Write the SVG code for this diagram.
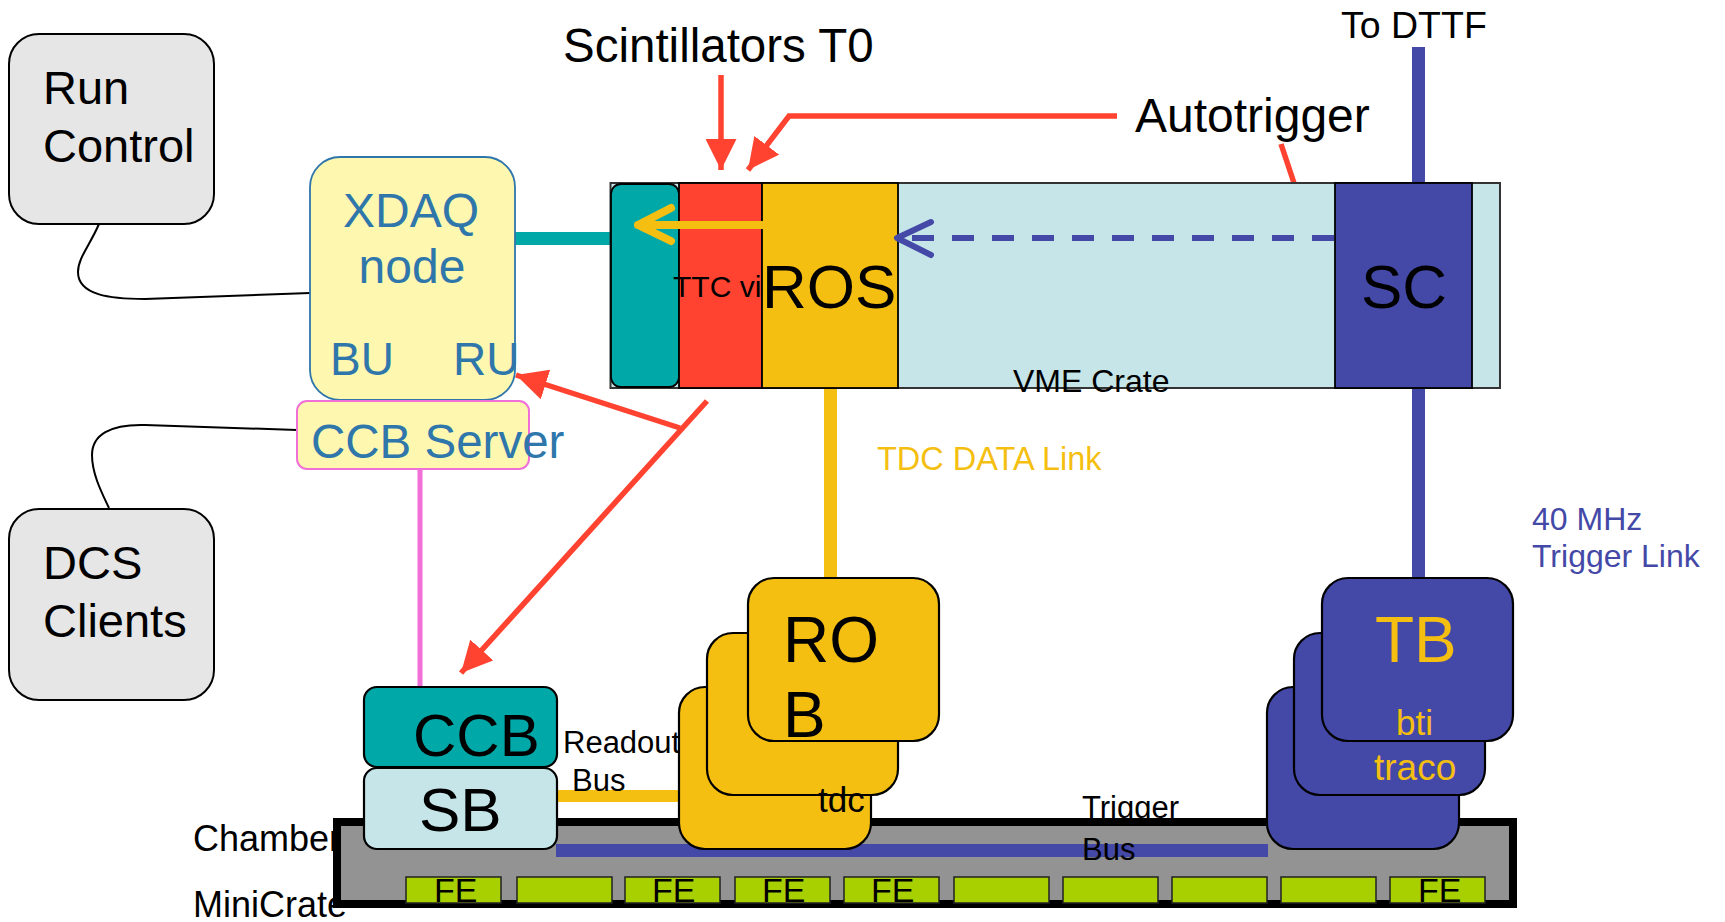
<svg xmlns="http://www.w3.org/2000/svg" width="1725" height="922" viewBox="0 0 1725 922">
<style>
text{font-family:"Liberation Sans",Arial,sans-serif;}
.blk{fill:#000;}
.blu{fill:#2f76ab;}
.gbox{fill:#e6e6e6;stroke:#000;stroke-width:2;}
.red{stroke:#ff4330;stroke-width:5.5;fill:none;}
.thin{stroke:#000;stroke-width:2;fill:none;}
.mod{stroke:#000;stroke-width:1.8;}
.card{stroke:#000;stroke-width:2.2;}
.fe{fill:#a8d000;stroke:#222;stroke-width:1.5;}
</style>
<defs>
<marker id="ah" markerUnits="userSpaceOnUse" viewBox="0 0 31 31" markerWidth="31" markerHeight="31" refX="31" refY="15.5" orient="auto"><path d="M0,0 L31,15.5 L0,31 z" fill="#ff4330"/></marker>
</defs>

<g id="connectors">
<path class="thin" d="M99,224 C90,245 78,258 78,272 C78,295 110,299 145,299 L310,293"/>
<path class="thin" d="M297,430 L145,425 C110,424 92,435 92,455 C92,475 103,495 109,508"/>
<line x1="515" y1="238.5" x2="611" y2="238.5" stroke="#00a8a8" stroke-width="13"/>
<line x1="1418.5" y1="47" x2="1418.5" y2="183" stroke="#4449a8" stroke-width="13"/>
<line x1="1418.5" y1="388" x2="1418.5" y2="578" stroke="#4449a8" stroke-width="13"/>
<line x1="830.5" y1="388" x2="830.5" y2="578" stroke="#f5bf12" stroke-width="13"/>
<line x1="420" y1="469" x2="420" y2="687" stroke="#f070d8" stroke-width="5"/>
<path class="red" d="M721,75 L721,170" marker-end="url(#ah)"/>
<path class="red" d="M1117,116 L789,116 L748,170" marker-end="url(#ah)"/>
<path class="red" d="M1281,144 L1294,183" stroke-width="4.5"/>
<path class="red" d="M680,428 L516,375" marker-end="url(#ah)"/>
<path class="red" d="M707,401 L461,673" marker-end="url(#ah)"/>
</g>

<g id="run-control">
<rect class="gbox" x="9" y="34" width="205" height="190" rx="30"/>
<text class="blk" x="43" y="104" font-size="47">Run</text>
<text class="blk" x="43" y="162" font-size="47">Control</text>
</g>

<g id="dcs-clients">
<rect class="gbox" x="9" y="509" width="205" height="191" rx="30"/>
<text class="blk" x="43" y="579" font-size="47">DCS</text>
<text class="blk" x="43" y="637" font-size="47">Clients</text>
</g>

<g id="xdaq-node">
<rect x="310" y="157" width="205" height="243" rx="30" fill="#fdf7b0" stroke="#2f76ab" stroke-width="1.8"/>
<text class="blu" x="411" y="227" font-size="48" text-anchor="middle">XDAQ</text>
<text class="blu" x="412" y="283" font-size="48" text-anchor="middle">node</text>
<text class="blu" x="330" y="375" font-size="46">BU</text>
<text class="blu" x="453" y="375" font-size="46">RU</text>
</g>

<g id="ccb-server">
<rect x="297" y="401" width="232" height="68" rx="10" fill="#fdf7b0" stroke="#f070d8" stroke-width="2"/>
<text class="blu" x="311" y="458" font-size="47.5">CCB Server</text>
</g>

<g id="labels-top">
<text class="blk" x="563" y="62" font-size="47.5">Scintillators T0</text>
<text class="blk" x="1135" y="132" font-size="48">Autotrigger</text>
<text class="blk" x="1341" y="38" font-size="37.5">To DTTF</text>
</g>

<g id="vme-crate">
<rect x="610.5" y="183" width="889.5" height="205" fill="#c5e5e8" stroke="#333" stroke-width="2"/>
<rect class="mod" x="611" y="184" width="68" height="203" rx="10" fill="#00a8a8"/>
<rect class="mod" x="679" y="183" width="83" height="205" fill="#ff4330"/>
<rect class="mod" x="762" y="183" width="136" height="205" fill="#f5bf12"/>
<rect class="mod" x="1335" y="183" width="137" height="205" fill="#4449a8"/>
<text class="blk" x="673" y="297" font-size="30">TTC vi</text>
<text class="blk" x="762" y="308" font-size="62">ROS</text>
<text class="blk" x="1361" y="308" font-size="62">SC</text>
<text class="blk" x="1013" y="392" font-size="32">VME Crate</text>
<path d="M762,225 L638,225 M671,208 L638,225 L671,241" fill="none" stroke="#f5bf12" stroke-width="8" stroke-linecap="round" stroke-linejoin="round"/>
<line x1="1334" y1="238" x2="897" y2="238" stroke="#4449a8" stroke-width="6" stroke-dasharray="22 18"/>
<path d="M931,222 L897,238 L931,255" fill="none" stroke="#4449a8" stroke-width="6" stroke-linecap="round" stroke-linejoin="round"/>
</g>

<g id="link-labels">
<text x="877" y="470" font-size="32.5" fill="#f5bf12">TDC DATA Link</text>
<text x="1532" y="530" font-size="32" fill="#4449a8">40 MHz</text>
<text x="1532" y="567" font-size="32" fill="#4449a8">Trigger Link</text>
</g>

<g id="chamber-labels">
<text class="blk" x="193" y="851" font-size="36">Chamber</text>
<text class="blk" x="193" y="917" font-size="36">MiniCrate</text>
</g>

<g id="chamber">
<rect x="337" y="822" width="1176" height="82" fill="#939393" stroke="#000" stroke-width="8"/>
<rect class="fe" x="406" y="877" width="95" height="26"/>
<rect class="fe" x="517" y="877" width="95" height="26"/>
<rect class="fe" x="625" y="877" width="95" height="26"/>
<rect class="fe" x="735" y="877" width="95" height="26"/>
<rect class="fe" x="844" y="877" width="95" height="26"/>
<rect class="fe" x="954" y="877" width="95" height="26"/>
<rect class="fe" x="1063" y="877" width="95" height="26"/>
<rect class="fe" x="1172" y="877" width="95" height="26"/>
<rect class="fe" x="1281" y="877" width="95" height="26"/>
<rect class="fe" x="1390" y="877" width="95" height="26"/>
<text class="blk" x="434" y="902" font-size="34">FE</text>
<text class="blk" x="652" y="902" font-size="34">FE</text>
<text class="blk" x="762" y="902" font-size="34">FE</text>
<text class="blk" x="871" y="902" font-size="34">FE</text>
<text class="blk" x="1418" y="902" font-size="34">FE</text>
</g>

<g id="buses">
<line x1="556" y1="850.5" x2="1268" y2="850.5" stroke="#4449a8" stroke-width="13"/>
<line x1="556" y1="796" x2="680" y2="796" stroke="#f5bf12" stroke-width="12"/>
<text class="blk" x="563" y="753" font-size="31">Readout</text>
<text class="blk" x="572" y="791" font-size="31">Bus</text>
<text class="blk" x="1082" y="818" font-size="31">Trigger</text>
<text class="blk" x="1082" y="860" font-size="31">Bus</text>
</g>

<g id="sb">
<rect class="card" x="364" y="768" width="193" height="81" rx="13" fill="#c5e5e8"/>
<text class="blk" x="419" y="831" font-size="62">SB</text>
</g>

<g id="ccb">
<rect class="card" x="364" y="687" width="193" height="80" rx="13" fill="#00a8a8"/>
<text class="blk" x="413" y="756" font-size="60">CCB</text>
</g>

<g id="rob">
<rect class="card" x="679" y="687" width="192" height="162" rx="26" fill="#f5bf12"/>
<rect class="card" x="707" y="633" width="191" height="162" rx="26" fill="#f5bf12"/>
<rect class="card" x="748" y="578" width="191" height="163" rx="26" fill="#f5bf12"/>
<text class="blk" x="783" y="662" font-size="64">RO</text>
<text class="blk" x="783" y="737" font-size="64">B</text>
<text class="blk" x="818" y="812" font-size="35">tdc</text>
</g>

<g id="tb">
<rect class="card" x="1267" y="687" width="192" height="162" rx="26" fill="#4449a8"/>
<rect class="card" x="1294" y="633" width="191" height="162" rx="26" fill="#4449a8"/>
<rect class="card" x="1322" y="578" width="191" height="163" rx="26" fill="#4449a8"/>
<text x="1375" y="662" font-size="64" fill="#f5bf12">TB</text>
<text x="1396" y="735" font-size="35" fill="#f5bf12">bti</text>
<text x="1374" y="780" font-size="37" fill="#f5bf12">traco</text>
</g>
</svg>
